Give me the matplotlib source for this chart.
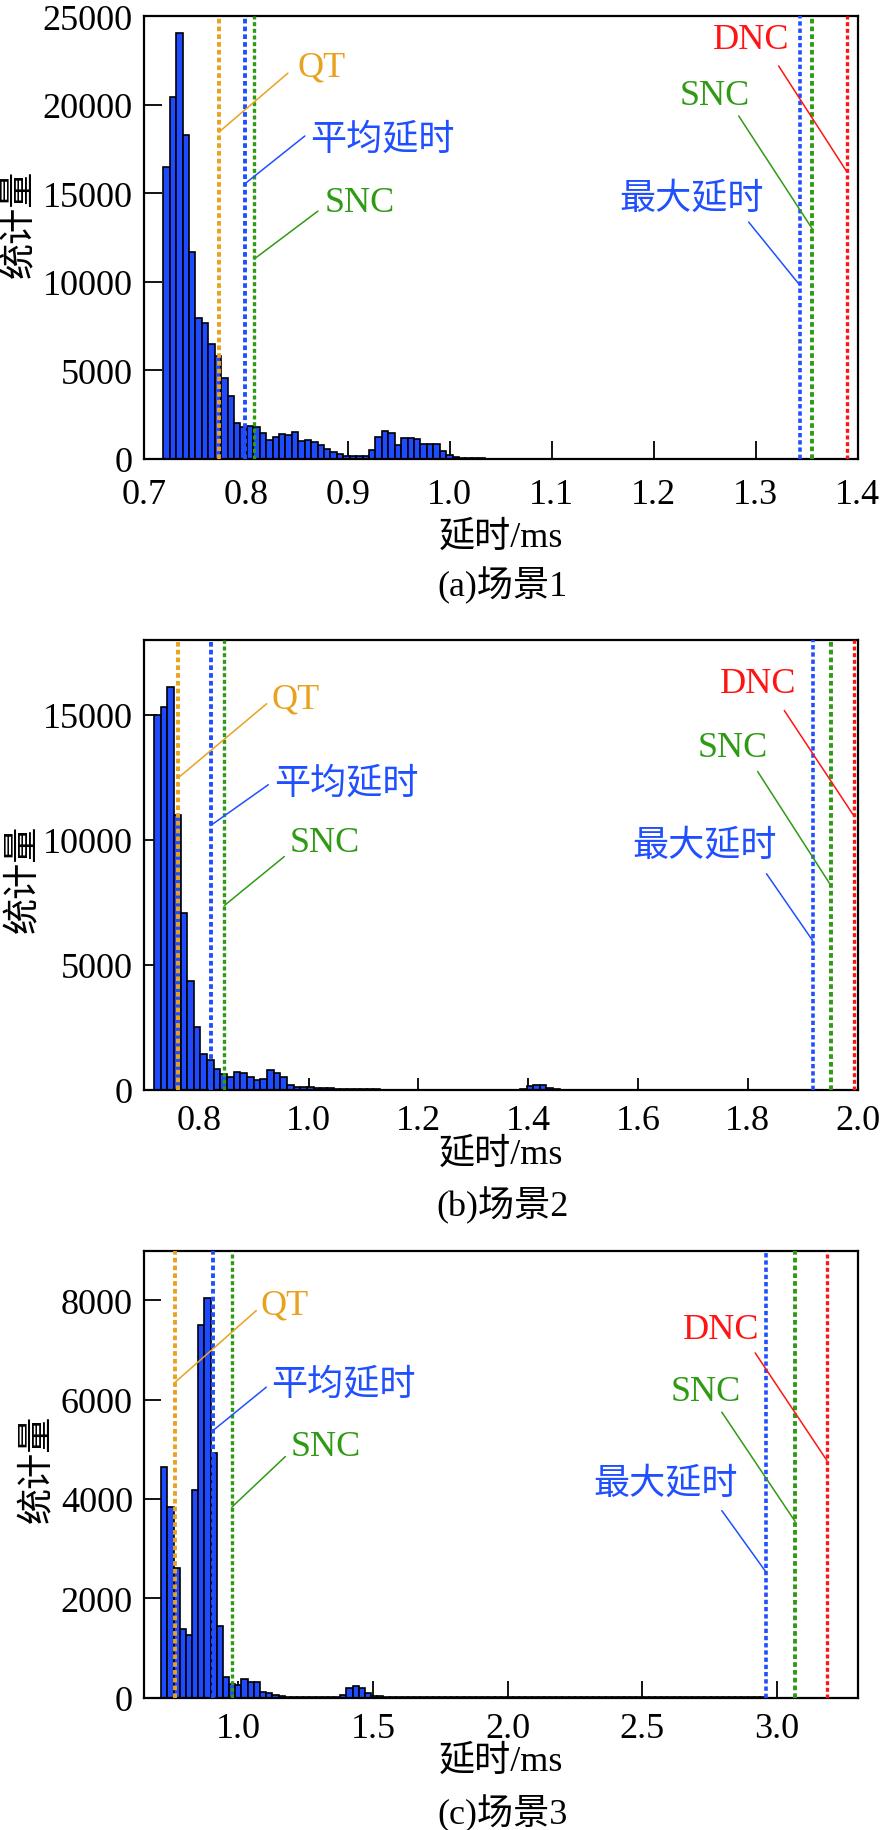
import numpy as np
import matplotlib.pyplot as plt
from matplotlib.ticker import FormatStrFormatter

plt.rcParams['font.family'] = ['Liberation Serif', 'Noto Sans CJK SC']
plt.rcParams['font.size'] = 26

# ---- scene 1 ----
s1_lo = 0.7189
s1_counts = [16460, 20410, 24020, 18300, 11700, 7960, 7650, 6490, 5830, 4550,
             3570, 2030, 1820, 1880, 1820, 1470, 1090, 1220, 1410, 1370,
             1500, 1030, 1090, 940, 810, 560, 380, 260, 190, 190,
             190, 190, 530, 1260, 1600, 1450, 810, 1190, 1190, 1130,
             850, 850, 850, 470, 240, 130, 60, 40, 30, 30,
             25, 25, 20, 20, 20, 20, 15, 15, 15, 15,
             15, 15, 10, 10, 10, 10, 10, 10, 10, 10,
             10, 10, 8, 8, 8, 8, 8, 8, 8, 8,
             8, 8, 5, 5, 5, 5, 5, 5, 5, 5,
             5, 5, 5, 5, 5, 5, 5, 5, 20]
s1_lines = {'QT': 0.7735, 'mean': 0.7987, 'snc_mean': 0.8082,
            'max': 1.3431, 'snc_max': 1.3556, 'dnc': 1.3895}

# ---- scene 2 ----
s2_lo = 0.718
s2_counts = [15000, 15290, 16090, 11000, 7080, 4370, 2510, 1440, 1210, 840,
             640, 510, 710, 680, 510, 400, 440, 810, 680, 530,
             210, 130, 130, 100, 80, 80, 80, 50, 30, 30,
             20, 20, 20, 20, 15, 15, 15, 15, 15, 15,
             10, 10, 10, 10, 10, 10, 10, 10, 10, 10,
             10, 10, 10, 10, 10, 20, 150, 200, 180, 80,
             20, 10, 10, 10, 10, 10, 10, 10, 10, 10,
             10, 10, 10, 10, 10, 10, 10, 10, 10, 10,
             10, 10, 10, 10, 10, 10, 10, 10, 10, 10,
             10, 10, 10, 10, 10, 10, 10, 10, 10]
s2_lines = {'QT': 0.762, 'mean': 0.8214, 'snc_mean': 0.8463,
            'max': 1.918, 'snc_max': 1.9513, 'dnc': 1.9933}

# ---- scene 3 ----
s3_lo = 0.714
s3_counts = [4652, 3834, 2606, 1383, 1269, 4189, 7506, 8056, 4922, 1450,
             410, 276, 262, 377, 322, 310, 121, 89, 54, 30,
             20, 15, 10, 10, 10, 8, 8, 8, 10, 54,
             189, 242, 189, 94, 30, 25, 20, 15, 10, 10,
             8, 8, 8, 5, 5, 5, 5, 5, 5, 5,
             5, 5, 5, 5, 5, 5, 5, 5, 5, 5,
             5, 5, 5, 5, 5, 5, 5, 5, 5, 5,
             5, 5, 5, 5, 5, 5, 5, 5, 5, 5,
             5, 5, 5, 5, 5, 5, 5, 5, 5, 5,
             5, 5, 5, 5, 5, 5, 5, 5]
s3_lines = {'QT': 0.766, 'mean': 0.906, 'snc_mean': 0.976,
            'max': 2.960, 'snc_max': 3.068, 'dnc': 3.186}

BAR = '#1e4bff'
C_QT = '#e8a21e'
C_BLUE = '#1f4fff'
C_GREEN = '#2f9a14'
C_RED = '#ff1414'
line_colors = {'QT': C_QT, 'mean': C_BLUE, 'snc_mean': C_GREEN,
               'max': C_BLUE, 'snc_max': C_GREEN, 'dnc': C_RED}
line_lw = {'QT': 2.8, 'mean': 2.8, 'snc_mean': 2.4,
           'max': 2.6, 'snc_max': 2.8, 'dnc': 2.4}
label_text = {'QT': 'QT', 'mean': '平均延时', 'snc_mean': 'SNC',
              'max': '最大延时', 'snc_max': 'SNC', 'dnc': 'DNC'}

fig = plt.figure(figsize=(8.84, 18.31), dpi=100)


def panel(rect, lo, counts, lines, xlim, ylim, xticks, yticks, notes,
          ylab_pos, xlab_y, caption, cap_y, ticklen, xpad):
    ax = fig.add_axes(rect)
    edges = np.linspace(lo, lines['max'], len(counts) + 1)
    ax.bar(edges[:-1], counts, width=np.diff(edges), align='edge',
           color=BAR, edgecolor='black', linewidth=1.2, zorder=2)
    for k, x in lines.items():
        ax.axvline(x, color=line_colors[k], lw=line_lw[k],
                   linestyle=(0, (1.2, 0.8)), zorder=3)
    for k, (tx, ty, sx, sy, ey) in notes.items():
        c = line_colors[k]
        ax.annotate('', xy=(lines[k], ey), xytext=(sx, sy),
                    arrowprops=dict(arrowstyle='-', color=c, lw=1.1,
                                    shrinkA=0, shrinkB=0), zorder=4)
        ax.text(tx, ty, label_text[k], color=c, ha='center', va='center',
                fontsize=26, zorder=5)
    ax.set_xlim(*xlim)
    ax.set_ylim(*ylim)
    ax.set_xticks(xticks)
    ax.set_yticks(yticks)
    ax.xaxis.set_major_formatter(FormatStrFormatter('%.1f'))
    ax.tick_params(direction='in', length=ticklen, width=1.3, top=False,
                   right=False, labelsize=26)
    ax.tick_params(axis='x', pad=xpad)
    ax.tick_params(axis='y', pad=8)
    for sp in ax.spines.values():
        sp.set_linewidth(1.6)
    ax.set_ylabel('统计量', fontsize=26, va='center')
    ax.yaxis.set_label_coords(*ylab_pos)
    ax.set_xlabel('延时/ms', fontsize=26, va='center')
    ax.xaxis.set_label_coords(0.5, xlab_y)
    fig.text(0.568, cap_y, caption, ha='center', va='center', fontsize=26)
    return ax


panel([0.1629, 0.7488, 0.8073, 0.2419], s1_lo, s1_counts, s1_lines,
      (0.7, 1.4), (0, 25000), np.arange(0.7, 1.41, 0.1),
      [0, 5000, 10000, 15000, 20000, 25000],
      {'QT': (0.8745, 22120, 0.8412, 21780, 18450),
       'mean': (0.9343, 18000, 0.8578, 18230, 15520),
       'snc_mean': (0.9118, 14500, 0.8706, 13990, 11290),
       'dnc': (1.296, 23700, 1.3225, 22180, 16200),
       'snc_max': (1.2598, 20540, 1.2833, 19360, 12980),
       'max': (1.2373, 14670, 1.2931, 13370, 9820)},
      (-0.174, 0.533), -0.176, '(a)场景1', 1 - 586 / 1831, 13, 14)

panel([0.1629, 0.4042, 0.8073, 0.2459], s2_lo, s2_counts, s2_lines,
      (0.7, 2.0), (0, 18000), np.arange(0.8, 2.01, 0.2),
      [0, 5000, 10000, 15000],
      {'QT': (0.976, 15610, 0.9235, 15440, 12470),
       'mean': (1.068, 12240, 0.9264, 12200, 10570),
       'snc_mean': (1.029, 9890, 0.9556, 9330, 7370),
       'dnc': (1.8184, 16240, 1.8663, 15170, 10950),
       'snc_max': (1.772, 13690, 1.8178, 12730, 8170),
       'max': (1.7219, 9730, 1.834, 8640, 5970)},
      (-0.168, 0.47), -0.142, '(b)场景2', 1 - 1206 / 1831, 9, 10)

panel([0.1629, 0.0723, 0.8073, 0.2441], s3_lo, s3_counts, s3_lines,
      (0.65, 3.3), (0, 9000), [1.0, 1.5, 2.0, 2.5, 3.0],
      [0, 2000, 4000, 6000, 8000],
      {'QT': (1.172, 7913, 1.067, 7794, 6352),
       'mean': (1.3915, 6302, 1.104, 6251, 5377),
       'snc_mean': (1.324, 5053, 1.1748, 4854, 3834),
       'dnc': (2.794, 7419, 2.9194, 6942, 4773),
       'snc_max': (2.7346, 6173, 2.7956, 5748, 3545),
       'max': (2.586, 4304, 2.7956, 3766, 2525)},
      (-0.148, 0.514), -0.143, '(c)场景3', 1 - 1814 / 1831, 12, 10)

fig.savefig('out.png', dpi=100)
